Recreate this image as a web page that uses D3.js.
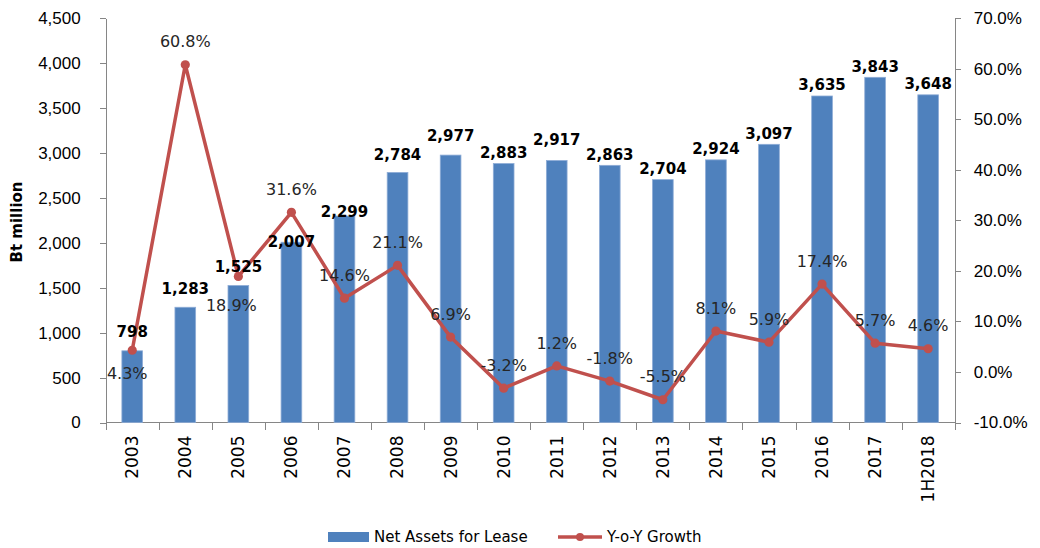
<!DOCTYPE html>
<html>
<head>
<meta charset="utf-8">
<script src="https://cdn.jsdelivr.net/npm/d3@7"></script>
<style>
    html, body { margin: 0; padding: 0; background: #fff; }
    svg { display: block; font-family: "DejaVu Sans", Verdana, sans-serif; }
    .axis path, .axis line { stroke: #868686; shape-rendering: crispEdges; }
    .axis text { fill: #000; font-size: 17px; }
</style>
</head>
<body>
<svg id="chart" width="1040" height="548"></svg>
<script>
(function () {

    // Data
    const categories = ['2003', '2004', '2005', '2006', '2007', '2008', '2009', '2010',
                        '2011', '2012', '2013', '2014', '2015', '2016', '2017', '1H2018'];
    const netAssets = [798, 1283, 1525, 2007, 2299, 2784, 2977, 2883,
                       2917, 2863, 2704, 2924, 3097, 3635, 3843, 3648];
    const growth = [4.3, 60.8, 18.9, 31.6, 14.6, 21.1, 6.9, -3.2,
                    1.2, -1.8, -5.5, 8.1, 5.9, 17.4, 5.7, 4.6];
    const leftTicks = [0, 500, 1000, 1500, 2000, 2500, 3000, 3500, 4000, 4500];
    const rightTicks = [-10, 0, 10, 20, 30, 40, 50, 60, 70];

    // Constants
    const COLOR_BAR = '#4F81BD';
    const COLOR_LINE = '#C0504D';
    const MARGIN = { left: 105.7, right: 954.7, top: 18.3, bottom: 422.5 };
    // manual label placement (as in the source chart), px
    const BAR_LABEL_NUDGE = { '2003': -8, '2004': -8, '2005': -8, '2006': 11, '2007': 7,
                              '2008': -7, '2009': -8, '2011': -10 };
    const PCT_LABEL_BELOW = { '2003': [-5, 23], '2005': [-7, 29] };

    const svg = d3.select('#chart');

    // Scales
    const x = d3.scaleBand()
        .domain(categories)
        .range([MARGIN.left, MARGIN.right])
        .paddingInner(0.61)
        .paddingOuter(0.305);
    const step = x.step();
    const yLeft = d3.scaleLinear().domain([0, 4500]).range([MARGIN.bottom, MARGIN.top]);
    const yRight = d3.scaleLinear().domain([-10, 70]).range([MARGIN.bottom, MARGIN.top]);
    const cx = (c) => x(c) + x.bandwidth() / 2;

    // Axes
    svg.append('g')
        .attr('class', 'axis')
        .attr('transform', 'translate(' + MARGIN.left + ',0)')
        .call(d3.axisLeft(yLeft).tickValues(leftTicks).tickFormat(d3.format(','))
            .tickSize(6).tickSizeOuter(0).tickPadding(19));

    svg.append('g')
        .attr('class', 'axis')
        .attr('transform', 'translate(' + MARGIN.right + ',0)')
        .call(d3.axisRight(yRight).tickValues(rightTicks).tickFormat((d) => d.toFixed(1) + '%')
            .tickSize(6).tickSizeOuter(0).tickPadding(13));

    // Category axis: boundary ticks, rotated labels
    const xAxis = svg.append('g').attr('class', 'axis');
    xAxis.append('line')
        .attr('x1', MARGIN.left).attr('x2', MARGIN.right)
        .attr('y1', MARGIN.bottom).attr('y2', MARGIN.bottom);
    xAxis.selectAll('line.tick')
        .data(d3.range(categories.length + 1))
        .enter().append('line')
            .attr('class', 'tick')
            .attr('x1', (i) => Math.round(MARGIN.left + i * step) + 0.5)
            .attr('x2', (i) => Math.round(MARGIN.left + i * step) + 0.5)
            .attr('y1', MARGIN.bottom)
            .attr('y2', MARGIN.bottom + 7);
    xAxis.selectAll('text')
        .data(categories)
        .enter().append('text')
            .attr('transform', (c) => 'translate(' + cx(c) + ',' + (MARGIN.bottom + 13) + ') rotate(-90)')
            .attr('text-anchor', 'end')
            .attr('dy', '0.35em')
            .text((c) => c);

    // Axis title
    svg.append('text')
        .attr('transform', 'translate(17,222) rotate(-90)')
        .attr('text-anchor', 'middle')
        .attr('dy', '0.35em')
        .style('font-size', '15px')
        .style('font-weight', 'bold')
        .text('Bt million');

    // Bars
    svg.append('g')
        .selectAll('rect')
        .data(categories)
        .enter().append('rect')
            .attr('x', (c) => x(c))
            .attr('width', x.bandwidth())
            .attr('y', (c, i) => yLeft(netAssets[i]))
            .attr('height', (c, i) => MARGIN.bottom - yLeft(netAssets[i]))
            .attr('fill', COLOR_BAR)
            .attr('stroke', '#8eacd6')
            .attr('stroke-width', 0.8);

    // Growth line
    const line = d3.line()
        .x((d, i) => cx(categories[i]))
        .y((d) => yRight(d));
    svg.append('path')
        .datum(growth)
        .attr('d', line)
        .attr('fill', 'none')
        .attr('stroke', COLOR_LINE)
        .attr('stroke-width', 3.5)
        .attr('stroke-linejoin', 'round');
    svg.append('g')
        .selectAll('circle')
        .data(growth)
        .enter().append('circle')
            .attr('cx', (d, i) => cx(categories[i]))
            .attr('cy', (d) => yRight(d))
            .attr('r', 4.6)
            .attr('fill', COLOR_LINE);

    // Bar labels (drawn above the line, like the source)
    svg.append('g')
        .selectAll('text')
        .data(categories)
        .enter().append('text')
            .attr('x', cx)
            .attr('y', (c, i) => yLeft(netAssets[i]) - 11 + (BAR_LABEL_NUDGE[c] || 0))
            .attr('dy', '0.35em')
            .attr('text-anchor', 'middle')
            .style('font-size', '15px')
            .style('font-weight', 'bold')
            .text((c, i) => d3.format(',')(netAssets[i]));

    // Growth labels
    svg.append('g')
        .selectAll('text')
        .data(growth)
        .enter().append('text')
            .attr('x', (d, i) => cx(categories[i]) + (PCT_LABEL_BELOW[categories[i]] ? PCT_LABEL_BELOW[categories[i]][0] : 0))
            .attr('y', (d, i) => yRight(d) + (PCT_LABEL_BELOW[categories[i]] ? PCT_LABEL_BELOW[categories[i]][1] : -23))
            .attr('dy', '0.35em')
            .attr('text-anchor', 'middle')
            .attr('fill', '#262626')
            .style('font-size', '16px')
            .text((d) => d.toFixed(1) + '%');

    // Legend
    const legend = svg.append('g').style('font-size', '15px');
    legend.append('rect')
        .attr('x', 328).attr('y', 532).attr('width', 41).attr('height', 10)
        .attr('fill', COLOR_BAR);
    legend.append('text')
        .attr('x', 374).attr('y', 537).attr('dy', '0.35em')
        .text('Net Assets for Lease');
    legend.append('line')
        .attr('x1', 558).attr('x2', 602).attr('y1', 537).attr('y2', 537)
        .attr('stroke', COLOR_LINE).attr('stroke-width', 3.5);
    legend.append('circle')
        .attr('cx', 580).attr('cy', 537).attr('r', 4)
        .attr('fill', COLOR_LINE);
    legend.append('text')
        .attr('x', 607).attr('y', 537).attr('dy', '0.35em')
        .text('Y-o-Y Growth');

}());
</script>
</body>
</html>
